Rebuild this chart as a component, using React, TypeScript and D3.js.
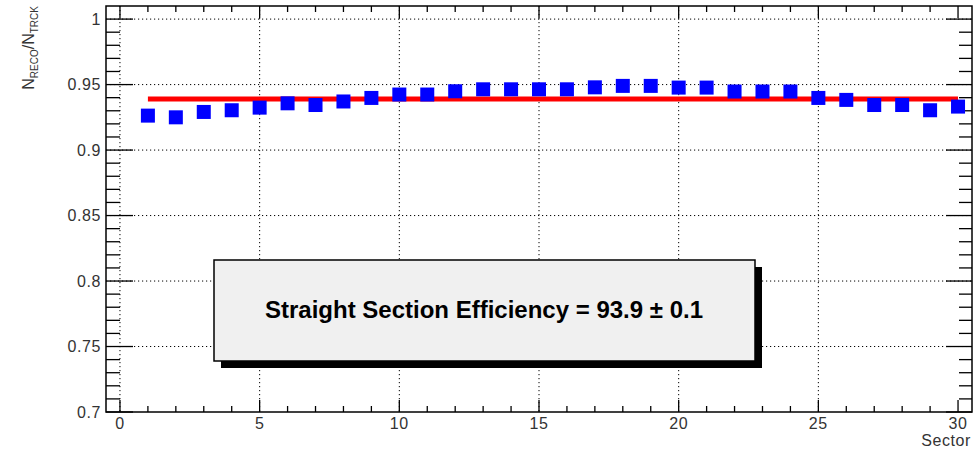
import React from 'react'
import * as d3 from 'd3'

const sectors = [1, 2, 3, 4, 5, 6, 7, 8, 9, 10, 11, 12, 13, 14, 15, 16, 17, 18, 19, 20, 21, 22, 23, 24, 25, 26, 27, 28, 29, 30]
const efficiency = [
  0.9263, 0.9250, 0.9291, 0.9304, 0.9324, 0.9357, 0.9344, 0.9371, 0.9398, 0.9424,
  0.9424, 0.9449, 0.9464, 0.9464, 0.9464, 0.9464, 0.9479, 0.9490, 0.9490, 0.9477,
  0.9477, 0.9447, 0.9447, 0.9447, 0.9398, 0.9383, 0.9344, 0.9344, 0.9304, 0.9332
]
const fitValue = 0.939
const fitRange = [1, 30]
const xMajor = [0, 5, 10, 15, 20, 25, 30]
const yMajor = [0.7, 0.75, 0.8, 0.85, 0.9, 0.95, 1]
const yTickLabels = ['0.7', '0.75', '0.8', '0.85', '0.9', '0.95', '1']
const boxText = 'Straight Section Efficiency = 93.9 \u00b1 0.1'

export default function App() {
  const width = 973
  const height = 453
  const left = 106
  const right = 972
  const top = 6
  const bottom = 412
  const font = 'Liberation Sans, Arial, Helvetica, sans-serif'

  const x = d3.scaleLinear().domain([-0.5, 30.5]).range([left, right])
  const y = d3.scaleLinear().domain([0.7, 1.01]).range([bottom, top])

  const xMinor = d3.range(0, 31).filter(d => d % 5 !== 0)
  const yMinor = d3.range(70, 101).map(d => d / 100).filter(d => Math.round(d * 100) % 5 !== 0)

  const fitLine = d3.line<number>().x(d => x(d)).y(() => y(fitValue))

  const sq = 14

  return (
    <svg width={width} height={height} style={{ position: 'absolute', left: 0, top: 0, background: 'white' }} fontFamily={font}>
      {/* grid */}
      <g stroke="#000" strokeWidth={1} strokeDasharray="1.2,2.8">
        {xMajor.filter(d => d < 30).map(d => (
          <line key={'gx' + d} x1={x(d)} x2={x(d)} y1={top} y2={bottom} />
        ))}
        {yMajor.filter(d => d > 0.7).map(d => (
          <line key={'gy' + d} x1={left} x2={right} y1={y(d)} y2={y(d)} />
        ))}
      </g>

      {/* ticks */}
      <g stroke="#000" strokeWidth={1.3}>
        {xMajor.map(d => (
          <g key={'xM' + d}>
            <line x1={x(d)} x2={x(d)} y1={bottom} y2={bottom - 12} />
            <line x1={x(d)} x2={x(d)} y1={top} y2={top + 12} />
          </g>
        ))}
        {xMinor.map(d => (
          <g key={'xm' + d}>
            <line x1={x(d)} x2={x(d)} y1={bottom} y2={bottom - 6} />
            <line x1={x(d)} x2={x(d)} y1={top} y2={top + 6} />
          </g>
        ))}
        {yMajor.map(d => (
          <g key={'yM' + d}>
            <line x1={left} x2={left + 27} y1={y(d)} y2={y(d)} />
            <line x1={right} x2={right - 26} y1={y(d)} y2={y(d)} />
          </g>
        ))}
        {yMinor.map(d => (
          <g key={'ym' + d}>
            <line x1={left} x2={left + 14} y1={y(d)} y2={y(d)} />
            <line x1={right} x2={right - 13} y1={y(d)} y2={y(d)} />
          </g>
        ))}
      </g>

      {/* fit */}
      <path d={fitLine(fitRange) || ''} stroke="#ff0000" strokeWidth={5} fill="none" />

      {/* points */}
      <g fill="#0000ff">
        {sectors.map((s, i) => (
          <rect key={s} x={x(s) - sq / 2} y={y(efficiency[i]) - sq / 2} width={sq} height={sq} />
        ))}
      </g>

      {/* frame */}
      <rect x={left} y={top} width={right - left} height={bottom - top} fill="none" stroke="#000" strokeWidth={1.5} />

      {/* tick labels */}
      <g fontSize={16} fill="#333" letterSpacing={0.6}>
        {xMajor.map(d => (
          <text key={'xl' + d} x={x(d)} y={bottom + 17} textAnchor="middle">{d}</text>
        ))}
        {yMajor.map((d, i) => (
          <text key={'yl' + d} x={101} y={y(d) + 5.5} textAnchor="end">{yTickLabels[i]}</text>
        ))}
        <text x={971} y={446} textAnchor="end">Sector</text>
      </g>

      {/* y title */}
      <text transform="translate(34,6) rotate(-90)" textAnchor="end" fontSize={16} fill="#333">
        N<tspan fontSize={10} dy={4}>RECO</tspan><tspan dy={-4}>/N</tspan><tspan fontSize={10} dy={4}>TRCK</tspan>
      </text>

      {/* stats box */}
      <rect x={221} y={267} width={541} height={101} fill="#000" />
      <rect x={214} y={260} width={541} height={101} fill="#f0f0f0" stroke="#000" strokeWidth={1.5} />
      <text x={484} y={318} textAnchor="middle" fontSize={24} fontWeight="bold" fill="#000">{boxText}</text>
    </svg>
  )
}
